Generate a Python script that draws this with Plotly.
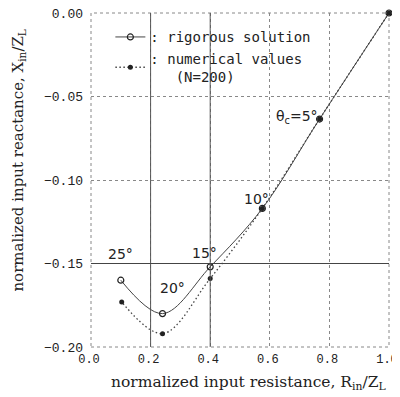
import plotly.graph_objects as go

# Data (theta_c = 0, 5, 10, 15, 20, 25 deg)
angles = ["0", "5", "10", "15", "20", "25"]
rig_R = [1.0, 0.767, 0.575, 0.400, 0.240, 0.100]
rig_X = [0.0, -0.0635, -0.117, -0.152, -0.180, -0.160]
num_R = [1.0, 0.767, 0.575, 0.400, 0.240, 0.103]
num_X = [0.0, -0.0635, -0.117, -0.159, -0.192, -0.173]

x_ticks = [0.0, 0.2, 0.4, 0.6, 0.8, 1.0]
x_tick_text = ["0.0", "0.2", "0.4", "0.6", "0.8", "1.0"]
y_ticks = [0.0, -0.05, -0.10, -0.15, -0.20]
y_tick_text = ["0.00", "\u22120.05", "\u22120.10", "\u22120.15", "\u22120.20"]

label_text = ["", "\u03b8<sub>c</sub>=5\u00b0", "10\u00b0", "15\u00b0", "20\u00b0", "25\u00b0"]
label_pos_R = [None, 0.69, 0.555, 0.38, 0.275, 0.10]
label_pos_X = [None, -0.062, -0.1115, -0.1435, -0.1645, -0.1445]

x_title = "normalized input resistance, R<sub>in</sub>/Z<sub>L</sub>"
y_title = "normalized input reactance, X<sub>in</sub>/Z<sub>L</sub>"

ink = "#222222"
fig = go.Figure()
fig.add_trace(go.Scatter(
    x=rig_R, y=rig_X, mode="lines+markers", name=": rigorous solution",
    line=dict(color="#444444", width=1, shape="spline", smoothing=1.0),
    marker=dict(symbol="circle-open", size=6, color=ink, line=dict(width=1.2)),
    cliponaxis=False,
))
fig.add_trace(go.Scatter(
    x=num_R, y=num_X, mode="lines+markers",
    name=": numerical values<br>   (N=200)",
    line=dict(color="#444444", width=1.3, dash="1.5px,2.5px", shape="spline", smoothing=1.0),
    marker=dict(symbol="circle", size=5, color=ink),
    cliponaxis=False,
))

for t, lx, ly in zip(label_text, label_pos_R, label_pos_X):
    if t:
        fig.add_annotation(x=lx, y=ly, text=t, showarrow=False,
                           font=dict(family="DejaVu Sans", size=14, color=ink))

# axis titles placed as in the scan
fig.add_annotation(xref="paper", yref="paper", x=0.528, y=-0.108, text=x_title,
                   showarrow=False, xanchor="center", yanchor="middle",
                   font=dict(family="DejaVu Serif", size=15.5, color=ink))
fig.add_annotation(xref="paper", yref="paper", x=-0.243, y=0.557, text=y_title,
                   showarrow=False, xanchor="center", yanchor="middle", textangle=-90,
                   font=dict(family="DejaVu Serif", size=15, color=ink))

# emphasised grid lines visible in the scan
fig.add_vline(x=x_ticks[1], line=dict(color="#555555", width=1))
fig.add_vline(x=x_ticks[2], line=dict(color="#555555", width=1))
fig.add_hline(y=y_ticks[3], line=dict(color="#444444", width=1.2))
# dotted frame
fig.add_shape(type="rect", xref="paper", yref="paper", x0=0, y0=0, x1=1, y1=1,
              line=dict(color="#888888", width=1, dash="dot"), layer="below")

axis_common = dict(
    showgrid=True, gridcolor="#888888", griddash="dot", gridwidth=1,
    zeroline=False, showline=False, ticks="", automargin=False,
    ticklabeloverflow="allow",
)

# the page body adds an 8px margin, so the figure is offset by 8px
fig.update_layout(
    width=400, height=389,
    margin=dict(l=83, r=19, t=5, b=50),
    paper_bgcolor="white", plot_bgcolor="white",
    showlegend=True,
    legend=dict(x=0.065, y=0.975, xanchor="left", yanchor="top",
                bgcolor="rgba(0,0,0,0)", borderwidth=0,
                font=dict(family="DejaVu Sans Mono", size=14, color=ink),
                itemwidth=30, tracegroupgap=0),
    xaxis=dict(range=[0, 1.0], tickvals=x_ticks, ticktext=x_tick_text,
               ticklabelstandoff=3, ticklabelshift=-2,
               tickfont=dict(family="Liberation Mono", size=12, color=ink),
               **axis_common),
    yaxis=dict(range=[-0.20, 0.0], tickvals=y_ticks, ticktext=y_tick_text,
               ticklabelstandoff=7,
               tickfont=dict(family="Liberation Mono", size=13, color=ink),
               **axis_common),
)

fig.write_html("out.html")
